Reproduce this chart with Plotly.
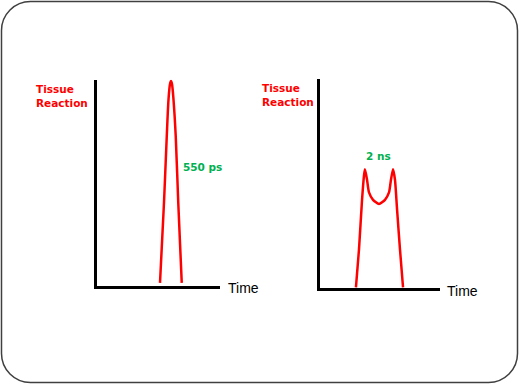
import plotly.graph_objects as go

# ---- data ----
t_short = [5.20, 5.52, 5.74, 5.88, 6.00, 6.08, 6.16, 6.28, 6.46, 6.66, 6.94]
r_short = [0.02, 0.41, 0.73, 0.91, 0.985, 1.0, 0.985, 0.91, 0.73, 0.41, 0.02]

t_long = [3.11, 3.36, 3.61, 3.77, 3.85, 4.02, 4.18, 4.51, 5.00, 5.49, 5.82, 5.98, 6.15, 6.31, 6.48, 6.72, 6.97]
r_long = [0.01, 0.19, 0.425, 0.54, 0.57, 0.52, 0.46, 0.425, 0.405, 0.425, 0.46, 0.52, 0.57, 0.52, 0.38, 0.19, 0.01]

label_y = "Tissue<br>Reaction"
label_x = "Time"
label_short = "550 ps"
label_long = "2 ns"

# ---- layout helpers ----
W, H = 519, 384
def px(x): return x / W
def py(y): return 1 - y / H

RED = "#FF0000"
GREEN = "#00B050"

fig = go.Figure()
fig.add_trace(go.Scatter(x=t_short, y=r_short, mode="lines", xaxis="x", yaxis="y",
                         line=dict(color=RED, width=2.5, shape="spline", smoothing=0.8),
                         hoverinfo="skip", showlegend=False))
fig.add_trace(go.Scatter(x=t_long, y=r_long, mode="lines", xaxis="x2", yaxis="y2",
                         line=dict(color=RED, width=2.5, shape="spline", smoothing=0.6),
                         hoverinfo="skip", showlegend=False))

ax_common = dict(showline=True, linecolor="black", linewidth=3, showgrid=False,
                 zeroline=False, showticklabels=False, ticks="", fixedrange=True)

fig.update_layout(
    width=W, height=H, autosize=False,
    margin=dict(l=0, r=0, t=0, b=0),
    paper_bgcolor="white", plot_bgcolor="white",
    xaxis=dict(domain=[px(96.5), px(220)], range=[0.12, 10], anchor="y", **ax_common),
    yaxis=dict(domain=[py(285.5), py(79.5)], range=[0.0073, 1.0073], anchor="x", **ax_common),
    xaxis2=dict(domain=[px(319.5), px(440)], range=[0.123, 10], anchor="y2", **ax_common),
    yaxis2=dict(domain=[py(288), py(79)], range=[0.0071, 0.9976], anchor="x2", **ax_common),
)

# rounded border
x0, y0, x1, y1, r = 1.5, 1.5, 517.5, 382.5, 29
k = 0.5523 * r
path = (f"M {px(x0+r)},{py(y0)} L {px(x1-r)},{py(y0)} "
        f"C {px(x1-r+k)},{py(y0)} {px(x1)},{py(y0+r-k)} {px(x1)},{py(y0+r)} "
        f"L {px(x1)},{py(y1-r)} "
        f"C {px(x1)},{py(y1-r+k)} {px(x1-r+k)},{py(y1)} {px(x1-r)},{py(y1)} "
        f"L {px(x0+r)},{py(y1)} "
        f"C {px(x0+r-k)},{py(y1)} {px(x0)},{py(y1-r+k)} {px(x0)},{py(y1-r)} "
        f"L {px(x0)},{py(y0+r)} "
        f"C {px(x0)},{py(y0+r-k)} {px(x0+r-k)},{py(y0)} {px(x0+r)},{py(y0)} Z")
fig.add_shape(type="path", path=path, xref="paper", yref="paper",
              line=dict(color="#404040", width=1.5), layer="above")

font_lab = dict(family="DejaVu Sans", size=10.5, color=RED)
font_time = dict(family="Liberation Sans", size=14, color="black")
font_green = dict(family="DejaVu Sans", size=10.5, color=GREEN)

def ann(text, x, y, font, xanchor="left"):
    fig.add_annotation(text=text, x=px(x), y=py(y), xref="paper", yref="paper",
                       xanchor=xanchor, yanchor="middle", showarrow=False,
                       align="left", font=font)

ann(f"<b>{label_y}</b>", 34, 96, font_lab)
ann(f"<b>{label_y}</b>", 260, 94.5, font_lab)
ann(label_x, 226, 288, font_time)
ann(label_x, 445, 290.5, font_time)
ann(f"<b>{label_short}</b>", 181, 167, font_green)
ann(f"<b>{label_long}</b>", 378, 156, font_green, xanchor="center")

fig.write_html("out.html", config={"displayModeBar": False, "staticPlot": True},
               post_script="document.body.style.margin='0';document.body.style.overflow='hidden';")
